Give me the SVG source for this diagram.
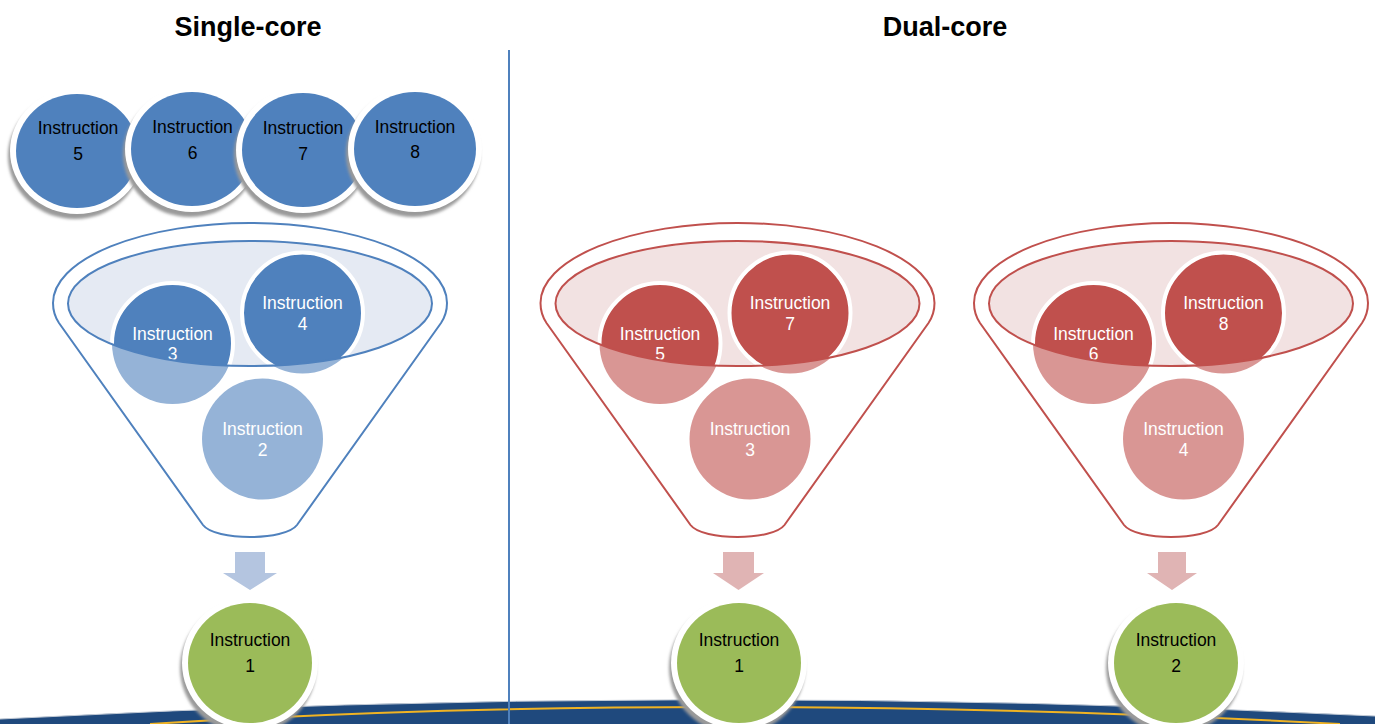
<svg xmlns="http://www.w3.org/2000/svg" width="1375" height="724" viewBox="0 0 1375 724">
<style>
.title{font-family:"Liberation Sans",Arial,sans-serif;font-weight:bold;font-size:27px;fill:#000;text-anchor:middle}
.lbl{font-family:"Liberation Sans",Arial,sans-serif;font-size:17.5px;text-anchor:middle}
.wt{fill:#fff}
.bk{fill:#000}
.ring{fill:#fff}
.shadow{fill:#9a9a9a;filter:url(#blur)}
.topc{fill:#4f81bd}
.green{fill:#9bbb59}
.fB{fill:#fff;stroke:#4f81bd;stroke-width:2}
.fR{fill:#fff;stroke:#c0504d;stroke-width:2}
.bowlB{fill:#e5eaf3}
.bowlR{fill:#f2e2e2}
.edgeB{fill:none;stroke:#4f81bd;stroke-width:2}
.edgeR{fill:none;stroke:#c0504d;stroke-width:2}
.darkB{fill:#4f81bd;stroke:#fff;stroke-width:4}
.darkR{fill:#c0504d;stroke:#fff;stroke-width:4}
.lightB{fill:#95b3d7}
.lightR{fill:#d99694}
.arrB{fill:#b4c5e0}
.arrR{fill:#e0b4b4}
</style>
<defs>
<filter id="blur" x="-10%" y="-10%" width="120%" height="130%"><feGaussianBlur stdDeviation="1.5"/></filter>
<clipPath id="bowl" clipPathUnits="userSpaceOnUse"><ellipse cx="250" cy="303.5" rx="182" ry="62.5"/></clipPath>
<path id="funnelShape" d="M53,303 A197,80 0 0 1 447,303 C447,312 445,317 441,323 L297,525 C285,541 215,541 203,525 L59,323 C55,317 53,312 53,303 Z"/>
</defs>

<rect width="1375" height="724" fill="#fff"/>

<!-- bottom band -->
<g id="band">
<path d="M0,719 Q690,682 1375,716 L1375,724 L0,724 Z" fill="#1f497d"/>
<path d="M0,719 Q690,682 1375,716" fill="none" stroke="#c3cbd6" stroke-width="1"/>
<path d="M150,724 Q700,690 1340,724" fill="none" stroke="#f0b323" stroke-width="2"/>
</g>

<!-- divider -->
<line x1="509" y1="50" x2="509" y2="724" stroke="#4f81bd" stroke-width="2"/>

<text class="title" x="248" y="36">Single-core</text>
<text class="title" x="945" y="36">Dual-core</text>

<!-- top row queue -->
<g id="q-instr5">
<ellipse class="shadow" cx="75" cy="156" rx="67" ry="63"/>
<ellipse class="ring" cx="77" cy="151" rx="67" ry="63"/>
<ellipse class="topc" cx="77" cy="151" rx="61" ry="57"/>
<text class="lbl bk" x="78" y="134">Instruction</text>
<text class="lbl bk" x="78" y="160">5</text>
</g>
<g id="q-instr6">
<ellipse class="shadow" cx="190" cy="154" rx="67" ry="63"/>
<ellipse class="ring" cx="192" cy="149" rx="67" ry="63"/>
<ellipse class="topc" cx="192" cy="149" rx="61" ry="57"/>
<text class="lbl bk" x="192.5" y="133">Instruction</text>
<text class="lbl bk" x="192.5" y="159">6</text>
</g>
<g id="q-instr7">
<ellipse class="shadow" cx="301" cy="155" rx="67" ry="63"/>
<ellipse class="ring" cx="303" cy="150" rx="67" ry="63"/>
<ellipse class="topc" cx="303" cy="150" rx="61" ry="57"/>
<text class="lbl bk" x="303" y="134">Instruction</text>
<text class="lbl bk" x="303" y="160">7</text>
</g>
<g id="q-instr8">
<ellipse class="shadow" cx="413" cy="154" rx="67" ry="63"/>
<ellipse class="ring" cx="415" cy="149" rx="67" ry="63"/>
<ellipse class="topc" cx="415" cy="149" rx="61" ry="57"/>
<text class="lbl bk" x="415" y="133">Instruction</text>
<text class="lbl bk" x="415" y="158">8</text>
</g>

<!-- Single-core funnel -->
<g id="funnel-single">
<use href="#funnelShape" class="fB"/>
<ellipse class="bowlB" cx="250" cy="303.5" rx="182" ry="62.5"/>
<g id="sc-instr3">
<circle class="lightB" cx="172.5" cy="343.5" r="60.5"/>
<g clip-path="url(#bowl)">
<circle class="darkB" cx="172.5" cy="343.5" r="60.5"/>
<text class="lbl wt" x="172.5" y="339.5">Instruction</text>
<text class="lbl wt" x="172.5" y="360">3</text>
</g>
</g>
<g id="sc-instr4">
<circle class="lightB" cx="302.5" cy="313" r="60.5"/>
<g clip-path="url(#bowl)">
<circle class="darkB" cx="302.5" cy="313" r="60.5"/>
<text class="lbl wt" x="302.5" y="309">Instruction</text>
<text class="lbl wt" x="302.5" y="329.5">4</text>
</g>
</g>
<g id="sc-instr2">
<circle class="lightB" cx="262.5" cy="439" r="60.5"/>
<text class="lbl wt" x="262.5" y="435">Instruction</text>
<text class="lbl wt" x="262.5" y="455.5">2</text>
</g>
<ellipse class="edgeB" cx="250" cy="303.5" rx="182" ry="62.5"/>
</g>

<!-- Dual-core funnel A -->
<g id="funnel-dual-a" transform="translate(487.5,0)">
<use href="#funnelShape" class="fR"/>
<ellipse class="bowlR" cx="250" cy="303.5" rx="182" ry="62.5"/>
<g id="dc-instr5">
<circle class="lightR" cx="172.5" cy="343.5" r="60.5"/>
<g clip-path="url(#bowl)">
<circle class="darkR" cx="172.5" cy="343.5" r="60.5"/>
<text class="lbl wt" x="172.5" y="339.5">Instruction</text>
<text class="lbl wt" x="172.5" y="360">5</text>
</g>
</g>
<g id="dc-instr7">
<circle class="lightR" cx="302.5" cy="313" r="60.5"/>
<g clip-path="url(#bowl)">
<circle class="darkR" cx="302.5" cy="313" r="60.5"/>
<text class="lbl wt" x="302.5" y="309">Instruction</text>
<text class="lbl wt" x="302.5" y="329.5">7</text>
</g>
</g>
<g id="dc-instr3">
<circle class="lightR" cx="262.5" cy="439" r="60.5"/>
<text class="lbl wt" x="262.5" y="435">Instruction</text>
<text class="lbl wt" x="262.5" y="455.5">3</text>
</g>
<ellipse class="edgeR" cx="250" cy="303.5" rx="182" ry="62.5"/>
</g>

<!-- Dual-core funnel B -->
<g id="funnel-dual-b" transform="translate(921,0)">
<use href="#funnelShape" class="fR"/>
<ellipse class="bowlR" cx="250" cy="303.5" rx="182" ry="62.5"/>
<g id="dc-instr6">
<circle class="lightR" cx="172.5" cy="343.5" r="60.5"/>
<g clip-path="url(#bowl)">
<circle class="darkR" cx="172.5" cy="343.5" r="60.5"/>
<text class="lbl wt" x="172.5" y="339.5">Instruction</text>
<text class="lbl wt" x="172.5" y="360">6</text>
</g>
</g>
<g id="dc-instr8">
<circle class="lightR" cx="302.5" cy="313" r="60.5"/>
<g clip-path="url(#bowl)">
<circle class="darkR" cx="302.5" cy="313" r="60.5"/>
<text class="lbl wt" x="302.5" y="309">Instruction</text>
<text class="lbl wt" x="302.5" y="329.5">8</text>
</g>
</g>
<g id="dc-instr4">
<circle class="lightR" cx="262.5" cy="439" r="60.5"/>
<text class="lbl wt" x="262.5" y="435">Instruction</text>
<text class="lbl wt" x="262.5" y="455.5">4</text>
</g>
<ellipse class="edgeR" cx="250" cy="303.5" rx="182" ry="62.5"/>
</g>

<!-- connectors -->
<g id="connectors">
<path class="arrB" d="M235,552 L265,552 L265,573 L277,573 L250,590 L223,573 L235,573 Z"/>
<path class="arrR" d="M723,552 L754,552 L754,573 L764,573 L738.5,590 L713,573 L723,573 Z"/>
<path class="arrR" d="M1158,552 L1186,552 L1186,573 L1197,573 L1172,590 L1147,573 L1158,573 Z"/>
</g>

<!-- output nodes -->
<g id="out-single-instr1">
<ellipse class="shadow" cx="248" cy="668" rx="68" ry="66"/>
<ellipse class="ring" cx="250" cy="663" rx="68" ry="66"/>
<ellipse class="green" cx="250" cy="663" rx="62" ry="60"/>
<text class="lbl bk" x="250" y="646">Instruction</text>
<text class="lbl bk" x="250" y="672">1</text>
</g>
<g id="out-dual-instr1">
<ellipse class="shadow" cx="737" cy="668" rx="68" ry="66"/>
<ellipse class="ring" cx="739" cy="663" rx="68" ry="66"/>
<ellipse class="green" cx="739" cy="663" rx="62" ry="60"/>
<text class="lbl bk" x="739" y="646">Instruction</text>
<text class="lbl bk" x="739" y="672">1</text>
</g>
<g id="out-dual-instr2">
<ellipse class="shadow" cx="1174" cy="668" rx="68" ry="66"/>
<ellipse class="ring" cx="1176" cy="663" rx="68" ry="66"/>
<ellipse class="green" cx="1176" cy="663" rx="62" ry="60"/>
<text class="lbl bk" x="1176" y="646">Instruction</text>
<text class="lbl bk" x="1176" y="672">2</text>
</g>
</svg>
